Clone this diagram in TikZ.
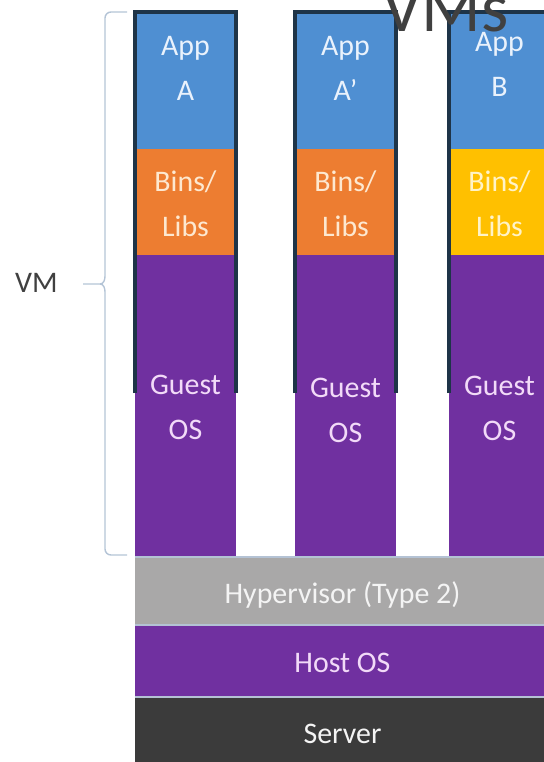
\documentclass[tikz,border=0pt]{standalone}
\usepackage{fontspec}
\setmainfont{Carlito}
\definecolor{appblue}{HTML}{4F8FD2}
\definecolor{liborange}{HTML}{ED7D31}
\definecolor{libyellow}{HTML}{FFC000}
\definecolor{ospurple}{HTML}{7030A0}
\definecolor{hvgray}{HTML}{A9A8A8}
\definecolor{srvdark}{HTML}{3B3B3B}
\definecolor{edgenavy}{HTML}{1E3448}
\definecolor{seplight}{HTML}{B4C2D4}
\definecolor{bracecol}{HTML}{B4C4D6}
\definecolor{apptext}{HTML}{EAF2FC}
\definecolor{libtext}{HTML}{FDE8D0}
\definecolor{yeltext}{HTML}{FFF3C8}
\definecolor{ostext}{HTML}{F2DAF8}
\definecolor{hvtext}{HTML}{F4F4F4}
\definecolor{darktext}{HTML}{404040}
\tikzset{
  block/.style={draw=none, rectangle, inner sep=0pt, outer sep=0pt},
  lbl/.style={inner sep=0pt, align=center, font=\fontsize{30}{45}\selectfont},
  edgeline/.style={draw=edgenavy, line width=4bp},
  sepline/.style={draw=seplight, line width=1.6bp},
  bracestyle/.style={draw=bracecol, line width=1.4bp},
}
\begin{document}
\begin{tikzpicture}[x=1bp,y=-1bp]
\useasboundingbox (0,0) rectangle (544,762);
% ---- columns
\foreach \L/\nm/\libc/\libt in {133/a/liborange/libtext, 293/b/liborange/libtext, 447/c/libyellow/yeltext}{
  \node[block, fill=ospurple, minimum width=101bp, minimum height=302bp, anchor=north west] (os\nm) at (\L+2,255) {};
  \node[block, fill=\libc, minimum width=101bp, minimum height=106bp, anchor=north west] (lib\nm) at (\L+2,149) {};
  \node[block, fill=appblue, minimum width=101bp, minimum height=139bp, anchor=north west] (app\nm) at (\L+2,10) {};
  \draw[edgeline] (\L+2,393) -- (\L+2,12) -- (\L+103,12) -- (\L+103,393);
}
% ---- labels in columns
\node[lbl, text=apptext] (tA) at (185.5,68) {App\\A};
\node[lbl, text=apptext] (tAp) at (345.5,68) {App\\A’};
\node[lbl, text=apptext] (tB) at (499.5,64) {App\\B};
\node[lbl, text=libtext] (lA) at (185.5,204) {Bins/\\Libs};
\node[lbl, text=libtext] (lAp) at (345.5,204) {Bins/\\Libs};
\node[lbl, text=yeltext] (lB) at (499.5,204) {Bins/\\Libs};
\node[lbl, text=ostext] (gA) at (185.5,407) {Guest\\OS};
\node[lbl, text=ostext] (gAp) at (345.5,410) {Guest\\OS};
\node[lbl, text=ostext] (gB) at (499.5,408) {Guest\\OS};
% ---- layers
\node[block, fill=hvgray, minimum width=417bp, minimum height=68bp, anchor=north west] (hyp) at (135,557) {};
\node[block, fill=ospurple, minimum width=417bp, minimum height=72bp, anchor=north west] (host) at (135,625) {};
\node[block, fill=srvdark, minimum width=417bp, minimum height=70bp, anchor=north west] (srv) at (135,697) {};
\draw[sepline] (hyp.north west) -- (hyp.north east);
\draw[sepline] (host.north west) -- (host.north east);
\draw[sepline] (srv.north west) -- (srv.north east);
\node[lbl, text=hvtext, anchor=base] (hypt) at (342.5,603) {Hypervisor (Type 2)};
\node[lbl, text=ostext, anchor=base] (hostt) at (342.5,672) {Host OS};
\node[lbl, text=hvtext, anchor=base] (srvt) at (342.5,743) {Server};
% ---- brace and VM label
\node[lbl, text=darktext, anchor=base west] (vm) at (15,292) {VM};
\coordinate (tip) at (83,284);
\draw[bracestyle] (127,12) -- (111,12) to[out=180,in=90] (105,18) -- (105,276) to[out=270,in=0] (100,284) -- (tip);
\draw[bracestyle] (100,284) to[out=0,in=90] (105,292) -- (105,549) to[out=270,in=180] (111,555) -- (127,555);
% ---- title
\fill[white] (380,0) rectangle (544,9.5);
\node[inner sep=0pt, anchor=base west, text=darktext, font=\fontsize{70}{70}\selectfont] (vms) at (382,32) {VMs};
\end{tikzpicture}
\end{document}
